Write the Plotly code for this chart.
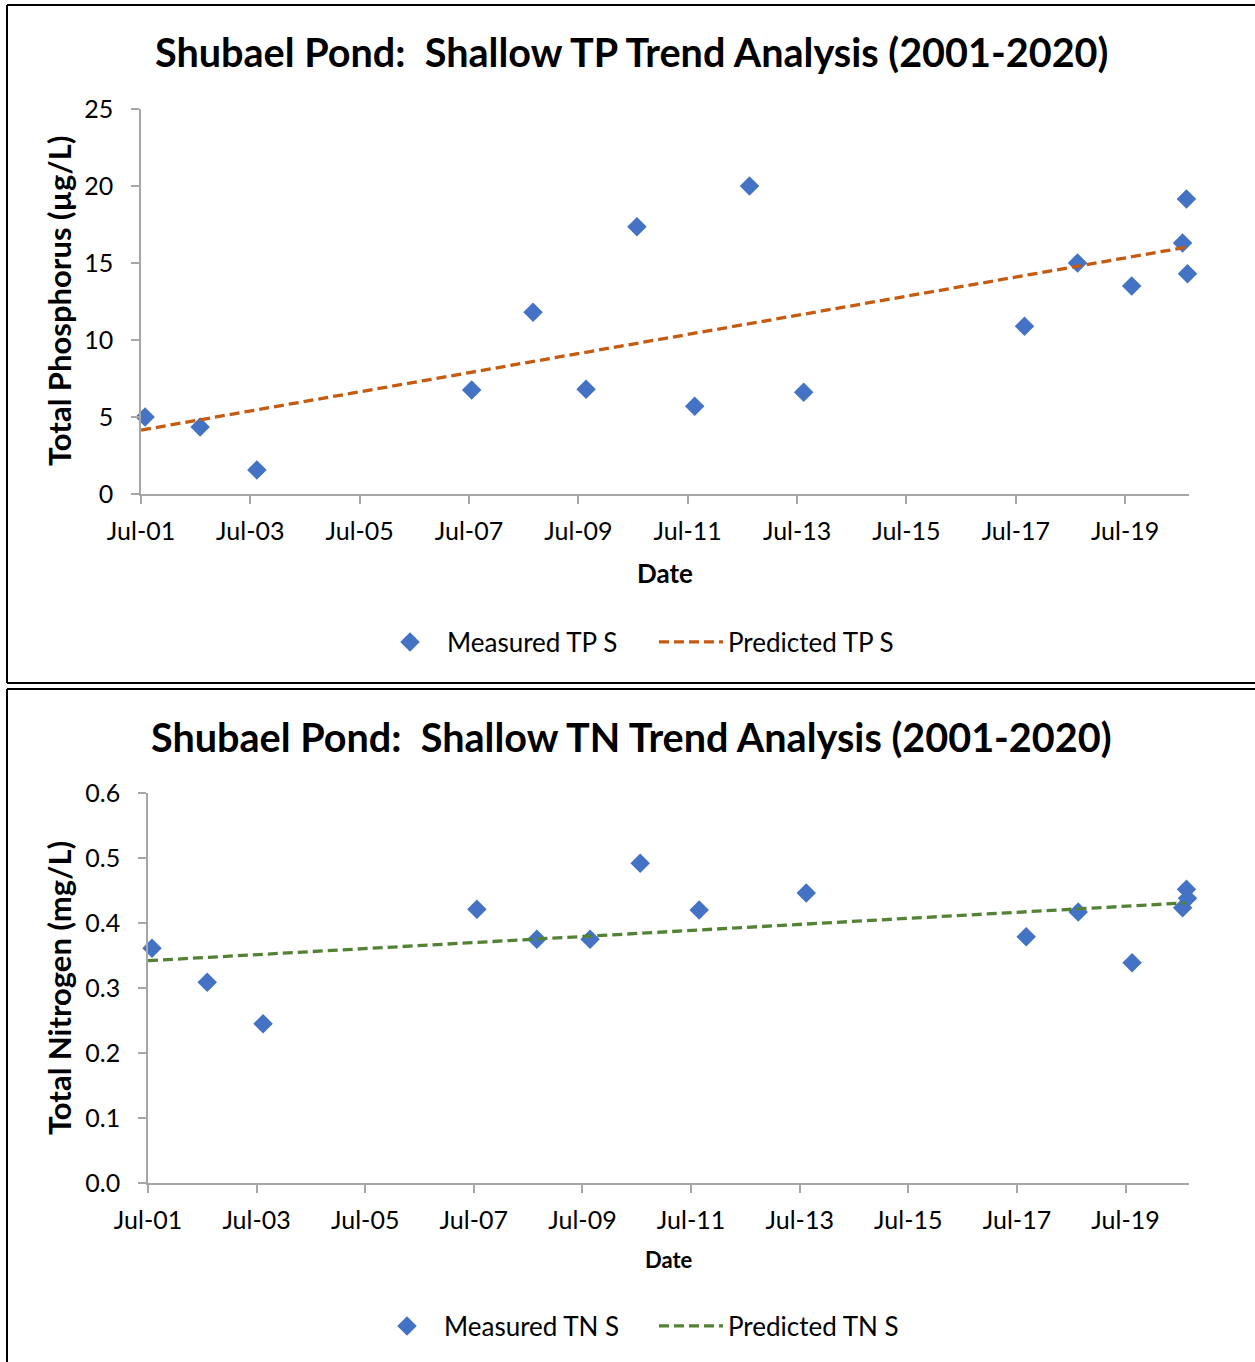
import plotly.graph_objects as go

# ---------------- data ----------------
tp_dates = ["2001-07-28", "2002-07-31", "2003-08-14", "2007-07-19", "2008-09-01",
            "2009-08-21", "2010-07-27", "2011-08-17", "2012-08-17", "2013-08-14",
            "2017-08-28", "2018-08-17", "2019-08-14", "2020-07-19", "2020-08-14",
            "2020-08-21"]
tp_values = [5.0, 4.35, 1.56, 6.75, 11.8, 6.8, 17.35, 5.7, 20.0, 6.6,
             10.9, 15.0, 13.5, 16.3, 19.15, 14.3]
tp_pred_dates = ["2001-07-01", "2020-08-28"]
tp_pred_values = [4.15, 16.05]

tn_dates = ["2001-07-28", "2002-08-03", "2003-08-14", "2007-07-22", "2008-08-28",
            "2009-08-21", "2010-07-24", "2011-08-25", "2013-08-14", "2017-09-01",
            "2018-08-17", "2019-08-14", "2020-07-19", "2020-08-14", "2020-08-21"]
tn_values = [0.361, 0.309, 0.245, 0.421, 0.375, 0.375, 0.492, 0.42, 0.446, 0.379,
             0.417, 0.339, 0.4235, 0.452, 0.438]
tn_pred_dates = ["2001-07-01", "2020-08-12"]
tn_pred_values = [0.342, 0.431]

x_ticks = ["2001-07-01", "2003-07-01", "2005-07-01", "2007-07-01", "2009-07-01",
           "2011-07-01", "2013-07-01", "2015-07-01", "2017-07-01", "2019-07-01"]
x_range = ["2001-07-01", "2020-08-31"]
tp_ticks = [0, 5, 10, 15, 20, 25]
tn_ticks = [0.0, 0.1, 0.2, 0.3, 0.4, 0.5, 0.6]

# ---------------- styling ----------------
W, H = 1255, 1362
FONT = "Lato, 'Open Sans', sans-serif"
BLUE = "#4472C4"
ORANGE = "#C55A11"
GREEN = "#548235"
AX = "#A6A6A6"


def px(x):
    return x / W


def py(y):
    return 1 - y / H


fig = go.Figure()

fig.add_trace(go.Scatter(x=tp_dates, y=tp_values, mode="markers", name="Measured TP S",
                         marker=dict(symbol="diamond", size=15, color=BLUE), cliponaxis=False,
                         xaxis="x", yaxis="y", legend="legend"))
fig.add_trace(go.Scatter(x=tp_pred_dates, y=tp_pred_values, mode="lines", name="Predicted TP S",
                         line=dict(color=ORANGE, width=3.3, dash="10px,5px"), cliponaxis=False,
                         xaxis="x", yaxis="y", legend="legend"))
fig.add_trace(go.Scatter(x=tn_dates, y=tn_values, mode="markers", name="Measured TN S",
                         marker=dict(symbol="diamond", size=15, color=BLUE), cliponaxis=False,
                         xaxis="x2", yaxis="y2", legend="legend2"))
fig.add_trace(go.Scatter(x=tn_pred_dates, y=tn_pred_values, mode="lines", name="Predicted TN S",
                         line=dict(color=GREEN, width=3.3, dash="10px,5px"), cliponaxis=False,
                         xaxis="x2", yaxis="y2", legend="legend2"))

xcommon = dict(type="date", range=x_range, tickvals=x_ticks, tickformat="%b-%y",
               showgrid=False, zeroline=False, showline=True, linecolor=AX, linewidth=1.5,
               ticks="outside", ticklen=8, tickcolor=AX, tickwidth=1.5, ticklabelstandoff=6,
               tickfont=dict(family=FONT, size=25, color="#000000"), automargin=False)
ycommon = dict(showgrid=False, zeroline=False, showline=True, linecolor=AX, linewidth=1.5,
               ticks="outside", ticklen=8, tickcolor=AX, tickwidth=1.5, ticklabelstandoff=13,
               tickfont=dict(family=FONT, size=25, color="#000000"), automargin=False)

fig.update_layout(
    width=W, height=H,
    margin=dict(l=0, r=0, t=0, b=0),
    paper_bgcolor="white", plot_bgcolor="white",
    font=dict(family=FONT, color="#000000"),
    xaxis=dict(xcommon, domain=[px(141), px(1189)], anchor="y"),
    yaxis=dict(ycommon, domain=[py(494), py(109)], anchor="x", range=[0, 25],
               tickvals=tp_ticks),
    xaxis2=dict(xcommon, domain=[px(148), px(1189)], anchor="y2"),
    yaxis2=dict(ycommon, domain=[py(1183), py(793)], anchor="x2", range=[0, 0.6],
                tickvals=tn_ticks, tickformat=".1f"),
    legend=dict(orientation="h", x=px(373), y=py(642), xanchor="left", yanchor="middle",
                font=dict(family=FONT, size=26), itemwidth=64, entrywidth=202,
                bgcolor="rgba(0,0,0,0)"),
    legend2=dict(orientation="h", x=px(370), y=py(1326), xanchor="left", yanchor="middle",
                 font=dict(family=FONT, size=26), itemwidth=64, entrywidth=205,
                 bgcolor="rgba(0,0,0,0)"),
    showlegend=True,
)

annotations = [
    dict(text="<b>Shubael Pond:  Shallow TP Trend Analysis (2001-2020)</b>", x=px(631), y=py(52),
         font=dict(size=39.6)),
    dict(text="<b>Shubael Pond:  Shallow TN Trend Analysis (2001-2020)</b>", x=px(631), y=py(736),
         font=dict(size=39.6)),
    dict(text="<b>Total Phosphorus (µg/L)</b>", x=px(59), y=py(301), textangle=-90,
         font=dict(size=31)),
    dict(text="<b>Total Nitrogen (mg/L)</b>", x=px(59), y=py(988), textangle=-90,
         font=dict(size=31)),
    dict(text="<b>Date</b>", x=px(665), y=py(573), font=dict(size=26)),
    dict(text="<b>Date</b>", x=px(669), y=py(1259), font=dict(size=22)),
]
for a in annotations:
    a.update(xref="paper", yref="paper", showarrow=False, xanchor="center", yanchor="middle")
    a["font"]["family"] = FONT
    a["font"]["color"] = "#000000"
fig.update_layout(annotations=annotations)

# panel borders
border = dict(color="#000000", width=2)
shapes = [
    dict(type="line", x0=px(7), x1=px(1260), y0=py(5), y1=py(5)),
    dict(type="line", x0=px(7), x1=px(7), y0=py(5), y1=py(683)),
    dict(type="line", x0=px(7), x1=px(1260), y0=py(683), y1=py(683)),
    dict(type="line", x0=px(7), x1=px(1260), y0=py(689), y1=py(689)),
    dict(type="line", x0=px(7), x1=px(7), y0=py(689), y1=py(1370)),
]
for s in shapes:
    s.update(xref="paper", yref="paper", line=border)
fig.update_layout(shapes=shapes)

fig.write_html("out.html")
